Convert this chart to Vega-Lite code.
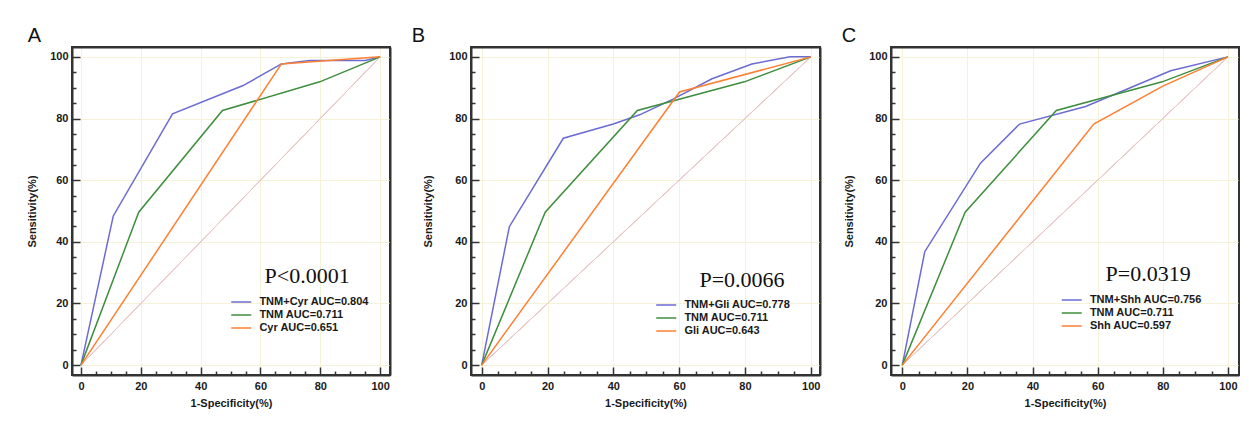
{
  "$schema": "https://vega.github.io/schema/vega-lite/v6.json",
  "padding": {"left": 25, "top": 25, "right": 0, "bottom": 0},
  "background": "white",
  "spacing": 19,
  "datasets": {
    "roc": [
      {"panel": "A", "series": "TNM+Cyr AUC=0.804", "fpr": 0, "tpr": 0},
      {"panel": "A", "series": "TNM+Cyr AUC=0.804", "fpr": 10.8, "tpr": 48.4},
      {"panel": "A", "series": "TNM+Cyr AUC=0.804", "fpr": 30.6, "tpr": 81.5},
      {"panel": "A", "series": "TNM+Cyr AUC=0.804", "fpr": 54.2, "tpr": 90.7},
      {"panel": "A", "series": "TNM+Cyr AUC=0.804", "fpr": 67.0, "tpr": 97.7},
      {"panel": "A", "series": "TNM+Cyr AUC=0.804", "fpr": 76.5, "tpr": 98.8},
      {"panel": "A", "series": "TNM+Cyr AUC=0.804", "fpr": 95.0, "tpr": 98.8},
      {"panel": "A", "series": "TNM+Cyr AUC=0.804", "fpr": 100, "tpr": 100},
      {"panel": "A", "series": "TNM AUC=0.711", "fpr": 0, "tpr": 0},
      {"panel": "A", "series": "TNM AUC=0.711", "fpr": 19.3, "tpr": 49.6},
      {"panel": "A", "series": "TNM AUC=0.711", "fpr": 47.3, "tpr": 82.6},
      {"panel": "A", "series": "TNM AUC=0.711", "fpr": 79.8, "tpr": 91.9},
      {"panel": "A", "series": "TNM AUC=0.711", "fpr": 100, "tpr": 100},
      {"panel": "A", "series": "Cyr AUC=0.651", "fpr": 0, "tpr": 0},
      {"panel": "A", "series": "Cyr AUC=0.651", "fpr": 67.0, "tpr": 97.7},
      {"panel": "A", "series": "Cyr AUC=0.651", "fpr": 100, "tpr": 100},
      {"panel": "B", "series": "TNM+Gli AUC=0.778", "fpr": 0, "tpr": 0},
      {"panel": "B", "series": "TNM+Gli AUC=0.778", "fpr": 8.4, "tpr": 44.9},
      {"panel": "B", "series": "TNM+Gli AUC=0.778", "fpr": 24.8, "tpr": 73.6},
      {"panel": "B", "series": "TNM+Gli AUC=0.778", "fpr": 40.0, "tpr": 78.2},
      {"panel": "B", "series": "TNM+Gli AUC=0.778", "fpr": 48.0, "tpr": 81.2},
      {"panel": "B", "series": "TNM+Gli AUC=0.778", "fpr": 58.0, "tpr": 86.2},
      {"panel": "B", "series": "TNM+Gli AUC=0.778", "fpr": 70.0, "tpr": 92.9},
      {"panel": "B", "series": "TNM+Gli AUC=0.778", "fpr": 82.1, "tpr": 97.7},
      {"panel": "B", "series": "TNM+Gli AUC=0.778", "fpr": 93.7, "tpr": 100},
      {"panel": "B", "series": "TNM+Gli AUC=0.778", "fpr": 100, "tpr": 100},
      {"panel": "B", "series": "TNM AUC=0.711", "fpr": 0, "tpr": 0},
      {"panel": "B", "series": "TNM AUC=0.711", "fpr": 19.3, "tpr": 49.6},
      {"panel": "B", "series": "TNM AUC=0.711", "fpr": 47.3, "tpr": 82.6},
      {"panel": "B", "series": "TNM AUC=0.711", "fpr": 79.8, "tpr": 91.9},
      {"panel": "B", "series": "TNM AUC=0.711", "fpr": 100, "tpr": 100},
      {"panel": "B", "series": "Gli AUC=0.643", "fpr": 0, "tpr": 0},
      {"panel": "B", "series": "Gli AUC=0.643", "fpr": 60.1, "tpr": 88.6},
      {"panel": "B", "series": "Gli AUC=0.643", "fpr": 100, "tpr": 100},
      {"panel": "C", "series": "TNM+Shh AUC=0.756", "fpr": 0, "tpr": 0},
      {"panel": "C", "series": "TNM+Shh AUC=0.756", "fpr": 6.9, "tpr": 36.8},
      {"panel": "C", "series": "TNM+Shh AUC=0.756", "fpr": 24.0, "tpr": 65.5},
      {"panel": "C", "series": "TNM+Shh AUC=0.756", "fpr": 36.0, "tpr": 78.2},
      {"panel": "C", "series": "TNM+Shh AUC=0.756", "fpr": 56.3, "tpr": 83.9},
      {"panel": "C", "series": "TNM+Shh AUC=0.756", "fpr": 66.0, "tpr": 88.2},
      {"panel": "C", "series": "TNM+Shh AUC=0.756", "fpr": 82.4, "tpr": 95.5},
      {"panel": "C", "series": "TNM+Shh AUC=0.756", "fpr": 100, "tpr": 100},
      {"panel": "C", "series": "TNM AUC=0.711", "fpr": 0, "tpr": 0},
      {"panel": "C", "series": "TNM AUC=0.711", "fpr": 19.3, "tpr": 49.6},
      {"panel": "C", "series": "TNM AUC=0.711", "fpr": 47.3, "tpr": 82.6},
      {"panel": "C", "series": "TNM AUC=0.711", "fpr": 79.8, "tpr": 91.9},
      {"panel": "C", "series": "TNM AUC=0.711", "fpr": 100, "tpr": 100},
      {"panel": "C", "series": "Shh AUC=0.597", "fpr": 0, "tpr": 0},
      {"panel": "C", "series": "Shh AUC=0.597", "fpr": 58.8, "tpr": 78.2},
      {"panel": "C", "series": "Shh AUC=0.597", "fpr": 80.0, "tpr": 90.5},
      {"panel": "C", "series": "Shh AUC=0.597", "fpr": 100, "tpr": 100}
    ],
    "pvals": [
      {"panel": "A", "label": "P<0.0001"},
      {"panel": "B", "label": "P=0.0066"},
      {"panel": "C", "label": "P=0.0319"}
    ]
  },
  "hconcat": [
    {
      "width": 318,
      "height": 328,
      "title": {"text": "A", "dx": 1},
      "layer": [
        {
          "data": {"name": "pvals"},
          "transform": [{"filter": "datum.panel === 'A'"}],
          "mark": {"type": "text", "text": "", "opacity": 0},
          "encoding": {
            "x": {"datum": 0, "type": "quantitative", "scale": {"domain": [-3, 103.3], "nice": false, "zero": false},
              "axis": {"orient": "bottom", "values": [0,20,40,60,80,100], "labels": false, "ticks": false, "grid": true, "domain": true, "title": null}},
            "y": {"datum": 0, "type": "quantitative", "scale": {"domain": [-3.2, 103.2], "nice": false, "zero": false},
              "axis": {"orient": "left", "values": [0,20,40,60,80,100], "labels": false, "ticks": false, "grid": true, "domain": true, "title": null}}
          }
        },
        {
          "data": {"name": "roc"},
          "transform": [{"filter": "datum.panel === 'A' && datum.fpr === 0"}],
          "mark": {"type": "rule", "color": "#e8c6c6", "strokeWidth": 1},
          "encoding": {
            "x": {"datum": 0, "type": "quantitative", "scale": {"domain": [-3, 103.3], "nice": false, "zero": false},
              "axis": {"orient": "bottom", "offset": -4, "values": [5,10,15,25,30,35,45,50,55,65,70,75,85,90,95], "labels": false, "grid": false, "domain": false, "ticks": true, "tickSize": 4, "title": null}},
            "x2": {"datum": 100},
            "y": {"datum": 0, "type": "quantitative", "scale": {"domain": [-3.2, 103.2], "nice": false, "zero": false},
              "axis": {"orient": "left", "offset": -4, "values": [5,10,15,25,30,35,45,50,55,65,70,75,85,90,95], "labels": false, "grid": false, "domain": false, "ticks": true, "tickSize": 4, "title": null}},
            "y2": {"datum": 100}
          }
        },
        {
          "data": {"name": "roc"},
          "transform": [{"filter": "datum.panel === 'A'"}],
          "mark": {"type": "line", "strokeWidth": 1.5},
          "encoding": {
            "x": {"field": "fpr", "type": "quantitative", "scale": {"domain": [-3, 103.3], "nice": false, "zero": false},
              "axis": {"orient": "bottom", "offset": -8, "values": [0,20,40,60,80,100], "ticks": true, "tickSize": 8, "labelPadding": 5, "grid": false, "domain": false, "title": "1-Specificity(%)", "titlePadding": 6}},
            "y": {"field": "tpr", "type": "quantitative", "scale": {"domain": [-3.2, 103.2], "nice": false, "zero": false},
              "axis": {"orient": "left", "offset": -8, "values": [0,20,40,60,80,100], "ticks": true, "tickSize": 8, "labelPadding": 4, "grid": false, "domain": false, "title": "Sensitivity(%)", "titlePadding": 12}},
            "color": {"field": "series", "type": "nominal",
              "scale": {"domain": ["TNM+Cyr AUC=0.804", "TNM AUC=0.711", "Cyr AUC=0.651"], "range": ["#6b6bd4", "#3e8e3e", "#ff7f32"]},
              "legend": {"orient": "none", "legendX": 170.4, "legendY": 249.5, "title": null}}
          }
        },
        {
          "data": {"name": "pvals"},
          "transform": [{"filter": "datum.panel === 'A'"}],
          "mark": {"type": "text", "font": "Liberation Serif", "fontSize": 22, "align": "center", "baseline": "alphabetic", "color": "#111"},
          "encoding": {
            "x": {"datum": 75.6, "type": "quantitative", "scale": {"domain": [-3, 103.3], "nice": false, "zero": false},
              "axis": {"orient": "top", "labels": false, "ticks": false, "grid": false, "domain": true, "title": null}},
            "y": {"datum": 26.6, "type": "quantitative", "scale": {"domain": [-3.2, 103.2], "nice": false, "zero": false},
              "axis": {"orient": "right", "labels": false, "ticks": false, "grid": false, "domain": true, "title": null}},
            "text": {"field": "label"}
          }
        }
      ],
      "resolve": {"axis": {"x": "independent", "y": "independent"}}
    },
    {
      "width": 349,
      "height": 328,
      "title": {"text": "B", "dx": -11},
      "layer": [
        {
          "data": {"name": "pvals"},
          "transform": [{"filter": "datum.panel === 'B'"}],
          "mark": {"type": "text", "text": "", "opacity": 0},
          "encoding": {
            "x": {"datum": 0, "type": "quantitative", "scale": {"domain": [-3.25, 102.8], "nice": false, "zero": false},
              "axis": {"orient": "bottom", "values": [0,20,40,60,80,100], "labels": false, "ticks": false, "grid": true, "domain": true, "title": null}},
            "y": {"datum": 0, "type": "quantitative", "scale": {"domain": [-3.2, 103.2], "nice": false, "zero": false},
              "axis": {"orient": "left", "values": [0,20,40,60,80,100], "labels": false, "ticks": false, "grid": true, "domain": true, "title": null}}
          }
        },
        {
          "data": {"name": "roc"},
          "transform": [{"filter": "datum.panel === 'B' && datum.fpr === 0"}],
          "mark": {"type": "rule", "color": "#e8c6c6", "strokeWidth": 1},
          "encoding": {
            "x": {"datum": 0, "type": "quantitative", "scale": {"domain": [-3.25, 102.8], "nice": false, "zero": false},
              "axis": {"orient": "bottom", "offset": -4, "values": [5,10,15,25,30,35,45,50,55,65,70,75,85,90,95], "labels": false, "grid": false, "domain": false, "ticks": true, "tickSize": 4, "title": null}},
            "x2": {"datum": 100},
            "y": {"datum": 0, "type": "quantitative", "scale": {"domain": [-3.2, 103.2], "nice": false, "zero": false},
              "axis": {"orient": "left", "offset": -4, "values": [5,10,15,25,30,35,45,50,55,65,70,75,85,90,95], "labels": false, "grid": false, "domain": false, "ticks": true, "tickSize": 4, "title": null}},
            "y2": {"datum": 100}
          }
        },
        {
          "data": {"name": "roc"},
          "transform": [{"filter": "datum.panel === 'B'"}],
          "mark": {"type": "line", "strokeWidth": 1.5},
          "encoding": {
            "x": {"field": "fpr", "type": "quantitative", "scale": {"domain": [-3.25, 102.8], "nice": false, "zero": false},
              "axis": {"orient": "bottom", "offset": -8, "values": [0,20,40,60,80,100], "ticks": true, "tickSize": 8, "labelPadding": 5, "grid": false, "domain": false, "title": "1-Specificity(%)", "titlePadding": 6}},
            "y": {"field": "tpr", "type": "quantitative", "scale": {"domain": [-3.2, 103.2], "nice": false, "zero": false},
              "axis": {"orient": "left", "offset": -8, "values": [0,20,40,60,80,100], "ticks": true, "tickSize": 8, "labelPadding": 4, "grid": false, "domain": false, "title": "Sensitivity(%)", "titlePadding": 15}},
            "color": {"field": "series", "type": "nominal",
              "scale": {"domain": ["TNM+Gli AUC=0.778", "TNM AUC=0.711", "Gli AUC=0.643"], "range": ["#6b6bd4", "#3e8e3e", "#ff7f32"]},
              "legend": {"orient": "none", "legendX": 196.4, "legendY": 252.5, "title": null}}
          }
        },
        {
          "data": {"name": "pvals"},
          "transform": [{"filter": "datum.panel === 'B'"}],
          "mark": {"type": "text", "font": "Liberation Serif", "fontSize": 22, "align": "center", "baseline": "alphabetic", "color": "#111"},
          "encoding": {
            "x": {"datum": 79.1, "type": "quantitative", "scale": {"domain": [-3.25, 102.8], "nice": false, "zero": false},
              "axis": {"orient": "top", "labels": false, "ticks": false, "grid": false, "domain": true, "title": null}},
            "y": {"datum": 25.3, "type": "quantitative", "scale": {"domain": [-3.2, 103.2], "nice": false, "zero": false},
              "axis": {"orient": "right", "labels": false, "ticks": false, "grid": false, "domain": true, "title": null}},
            "text": {"field": "label"}
          }
        }
      ],
      "resolve": {"axis": {"x": "independent", "y": "independent"}}
    },
    {
      "width": 348,
      "height": 328,
      "title": {"text": "C", "dx": -2},
      "layer": [
        {
          "data": {"name": "pvals"},
          "transform": [{"filter": "datum.panel === 'C'"}],
          "mark": {"type": "text", "text": "", "opacity": 0},
          "encoding": {
            "x": {"datum": 0, "type": "quantitative", "scale": {"domain": [-3.47, 103.4], "nice": false, "zero": false},
              "axis": {"orient": "bottom", "values": [0,20,40,60,80,100], "labels": false, "ticks": false, "grid": true, "domain": true, "title": null}},
            "y": {"datum": 0, "type": "quantitative", "scale": {"domain": [-3.2, 103.2], "nice": false, "zero": false},
              "axis": {"orient": "left", "values": [0,20,40,60,80,100], "labels": false, "ticks": false, "grid": true, "domain": true, "title": null}}
          }
        },
        {
          "data": {"name": "roc"},
          "transform": [{"filter": "datum.panel === 'C' && datum.fpr === 0"}],
          "mark": {"type": "rule", "color": "#e8c6c6", "strokeWidth": 1},
          "encoding": {
            "x": {"datum": 0, "type": "quantitative", "scale": {"domain": [-3.47, 103.4], "nice": false, "zero": false},
              "axis": {"orient": "bottom", "offset": -4, "values": [5,10,15,25,30,35,45,50,55,65,70,75,85,90,95], "labels": false, "grid": false, "domain": false, "ticks": true, "tickSize": 4, "title": null}},
            "x2": {"datum": 100},
            "y": {"datum": 0, "type": "quantitative", "scale": {"domain": [-3.2, 103.2], "nice": false, "zero": false},
              "axis": {"orient": "left", "offset": -4, "values": [5,10,15,25,30,35,45,50,55,65,70,75,85,90,95], "labels": false, "grid": false, "domain": false, "ticks": true, "tickSize": 4, "title": null}},
            "y2": {"datum": 100}
          }
        },
        {
          "data": {"name": "roc"},
          "transform": [{"filter": "datum.panel === 'C'"}],
          "mark": {"type": "line", "strokeWidth": 1.5},
          "encoding": {
            "x": {"field": "fpr", "type": "quantitative", "scale": {"domain": [-3.47, 103.4], "nice": false, "zero": false},
              "axis": {"orient": "bottom", "offset": -8, "values": [0,20,40,60,80,100], "ticks": true, "tickSize": 8, "labelPadding": 5, "grid": false, "domain": false, "title": "1-Specificity(%)", "titlePadding": 6}},
            "y": {"field": "tpr", "type": "quantitative", "scale": {"domain": [-3.2, 103.2], "nice": false, "zero": false},
              "axis": {"orient": "left", "offset": -8, "values": [0,20,40,60,80,100], "ticks": true, "tickSize": 8, "labelPadding": 4, "grid": false, "domain": false, "title": "Sensitivity(%)", "titlePadding": 14}},
            "color": {"field": "series", "type": "nominal",
              "scale": {"domain": ["TNM+Shh AUC=0.756", "TNM AUC=0.711", "Shh AUC=0.597"], "range": ["#6b6bd4", "#3e8e3e", "#ff7f32"]},
              "legend": {"orient": "none", "legendX": 181.9, "legendY": 247.5, "title": null}}
          }
        },
        {
          "data": {"name": "pvals"},
          "transform": [{"filter": "datum.panel === 'C'"}],
          "mark": {"type": "text", "font": "Liberation Serif", "fontSize": 22, "align": "center", "baseline": "alphabetic", "color": "#111"},
          "encoding": {
            "x": {"datum": 75.5, "type": "quantitative", "scale": {"domain": [-3.47, 103.4], "nice": false, "zero": false},
              "axis": {"orient": "top", "labels": false, "ticks": false, "grid": false, "domain": true, "title": null}},
            "y": {"datum": 27.3, "type": "quantitative", "scale": {"domain": [-3.2, 103.2], "nice": false, "zero": false},
              "axis": {"orient": "right", "labels": false, "ticks": false, "grid": false, "domain": true, "title": null}},
            "text": {"field": "label"}
          }
        }
      ],
      "resolve": {"axis": {"x": "independent", "y": "independent"}}
    }
  ],
  "resolve": {"scale": {"color": "independent"}, "legend": {"color": "independent"}},
  "config": {
    "view": {"stroke": "#333333", "strokeWidth": 2},
    "axis": {
      "labelFont": "Liberation Sans", "labelFontWeight": "bold", "labelFontSize": 11, "labelColor": "#1a1a1a",
      "labelFlush": false, "labelOverlap": false,
      "titleFont": "Liberation Sans", "titleFontWeight": "bold", "titleFontSize": 11, "titleColor": "#1a1a1a",
      "tickColor": "#333333", "tickWidth": 1.5,
      "domainColor": "#333333", "domainWidth": 2,
      "gridColor": "#f6f2d8", "gridWidth": 1
    },
    "legend": {
      "symbolType": "M-5,0H1", "symbolSize": 44.4, "symbolStrokeWidth": 1.5, "symbolFillColor": "transparent",
      "labelFont": "Liberation Sans", "labelFontWeight": "bold", "labelFontSize": 11, "labelColor": "#1a1a1a",
      "labelOffset": 6, "rowPadding": 1, "padding": 0
    },
    "title": {"font": "Liberation Sans", "fontSize": 20, "fontWeight": "normal", "anchor": "start", "frame": "bounds", "baseline": "alphabetic", "offset": 1, "color": "#111111"}
  }
}
